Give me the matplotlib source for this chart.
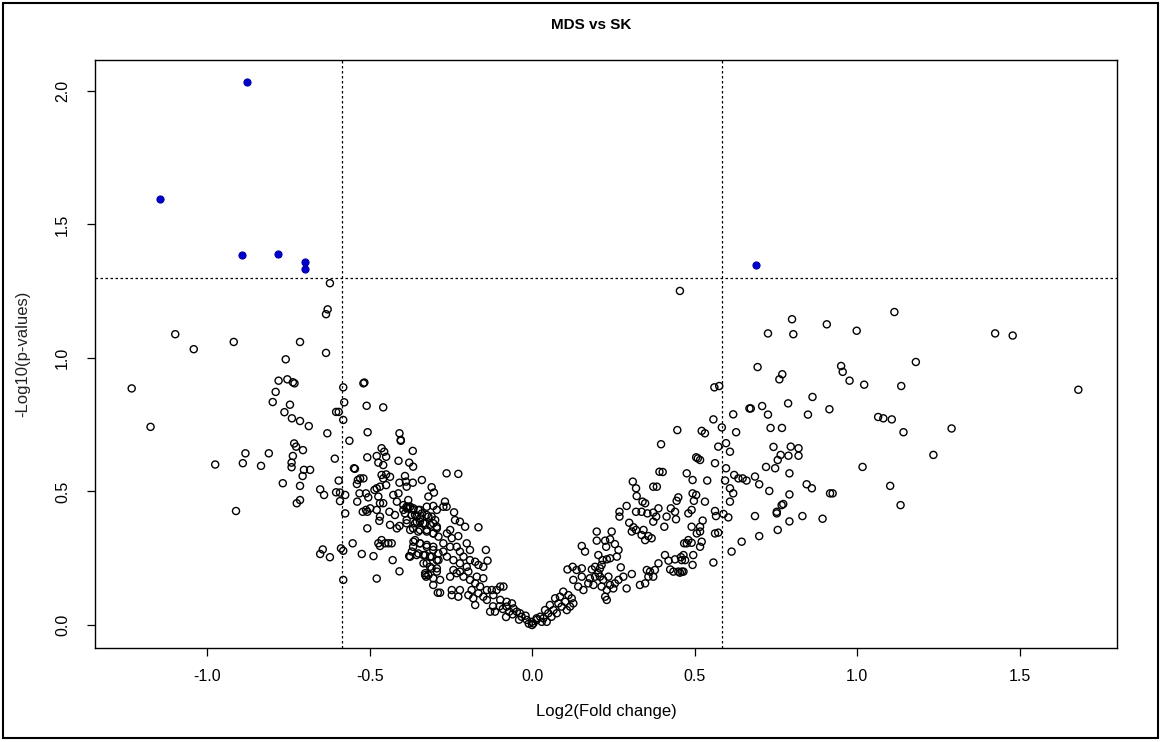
import matplotlib
matplotlib.use("Agg")
import matplotlib.pyplot as plt
from matplotlib.patches import Rectangle

plt.rcParams["font.family"] = ["Liberation Sans", "DejaVu Sans"]
plt.rcParams["axes.unicode_minus"] = False

# log2 fold change / -log10 p
left_fc = [-0.622, -0.629, -0.634, -1.098, -1.041, -0.918, -0.714, -0.634, -0.758, -1.232,
           -0.780, -0.753, -0.736, -0.731, -0.789, -0.798, -0.745, -0.762, -0.739, -0.714,
           -0.687, -0.603, -0.595, -0.630, -1.174, -0.732, -0.726, -0.705, -0.882, -0.810,
           -0.736, -0.607, -0.975, -0.890, -0.834, -0.740, -0.740, -0.702, -0.683, -0.706,
           -0.767, -0.714, -0.652, -0.595, -0.911,
           -0.581, -0.516, -0.519, -0.578, -0.509, -0.458, -0.581, -0.506, -0.408, -0.404,
           -0.263, -0.227]
left_p = [1.280, 1.182, 1.164, 1.089, 1.033, 1.060, 1.060, 1.019, 0.995, 0.886,
          0.915, 0.920, 0.909, 0.905, 0.873, 0.835, 0.825, 0.797, 0.774, 0.764,
          0.745, 0.798, 0.798, 0.718, 0.742, 0.680, 0.668, 0.655, 0.643, 0.643,
          0.633, 0.623, 0.601, 0.606, 0.596, 0.608, 0.591, 0.581, 0.581, 0.558,
          0.531, 0.521, 0.508, 0.541, 0.427,
          0.890, 0.908, 0.905, 0.834, 0.821, 0.815, 0.768, 0.722, 0.718, 0.693,
          0.568, 0.566]

mid_left_fc = [-0.562, -0.404, -0.463, -0.507, -0.478, -0.449, -0.455, -0.473, -0.458, -0.367,
               -0.411, -0.378, -0.366, -0.548, -0.545, -0.536, -0.529, -0.519, -0.539, -0.463,
               -0.449, -0.437, -0.458, -0.391, -0.408, -0.388, -0.367, -0.339, -0.386, -0.478,
               -0.485, -0.468, -0.449, -0.531, -0.511, -0.504, -0.538, -0.473, -0.468, -0.458,
               -0.427, -0.411, -0.416, -0.309, -0.302, -0.319, -0.381, -0.375, -0.386, -0.396,
               -0.521, -0.511, -0.498, -0.507, -0.478, -0.468, -0.470, -0.439, -0.422, -0.575,
               -0.507, -0.437, -0.416, -0.408, -0.386, -0.366, -0.345, -0.324, -0.304, -0.293,
               -0.360, -0.345, -0.319, -0.298, -0.355, -0.334, -0.314, -0.293, -0.386, -0.366,
               -0.345, -0.324, -0.304, -0.288, -0.360, -0.345, -0.324, -0.304, -0.288, -0.366,
               -0.355, -0.334, -0.314, -0.293, -0.324, -0.309, -0.293, -0.329, -0.326,
               -0.473, -0.463, -0.452, -0.442, -0.432, -0.468, -0.552, -0.644, -0.652, -0.622,
               -0.588, -0.581, -0.524, -0.488, -0.429, -0.378, -0.408, -0.581, -0.478, -0.304,
               -0.290, -0.603, -0.591, -0.575, -0.591, -0.640, -0.724, -0.714]
mid_left_p = [0.690, 0.690, 0.662, 0.628, 0.633, 0.630, 0.649, 0.608, 0.599, 0.652,
              0.615, 0.608, 0.593, 0.587, 0.585, 0.543, 0.549, 0.549, 0.528, 0.562,
              0.564, 0.555, 0.549, 0.558, 0.533, 0.537, 0.533, 0.543, 0.518, 0.512,
              0.506, 0.518, 0.524, 0.493, 0.493, 0.478, 0.462, 0.481, 0.456, 0.456,
              0.487, 0.493, 0.462, 0.516, 0.496, 0.481, 0.468, 0.443, 0.437, 0.431,
              0.424, 0.431, 0.437, 0.424, 0.431, 0.406, 0.390, 0.424, 0.412, 0.418,
              0.362, 0.375, 0.362, 0.371, 0.443, 0.431, 0.431, 0.443, 0.446, 0.431,
              0.412, 0.400, 0.406, 0.393, 0.387, 0.381, 0.375, 0.362, 0.393, 0.362,
              0.356, 0.350, 0.343, 0.331, 0.318, 0.306, 0.293, 0.281, 0.268, 0.293,
              0.262, 0.262, 0.256, 0.243, 0.231, 0.212, 0.200, 0.194, 0.181,
              0.306, 0.318, 0.306, 0.306, 0.306, 0.296, 0.306, 0.283, 0.266, 0.254,
              0.287, 0.278, 0.266, 0.258, 0.243, 0.258, 0.201, 0.169, 0.174, 0.150,
              0.121, 0.497, 0.496, 0.487, 0.464, 0.487, 0.456, 0.468]

# the over-plotted band between -0.4 and -0.28
dense_fc = [-0.396, -0.381, -0.365, -0.350, -0.391, -0.370, -0.355, -0.339, -0.324, -0.309,
            -0.386, -0.360, -0.345, -0.329, -0.304, -0.293, -0.375, -0.350, -0.324, -0.304,
            -0.365, -0.345, -0.324, -0.304, -0.370, -0.350, -0.329, -0.309, -0.288, -0.375,
            -0.334, -0.314, -0.293, -0.319, -0.304, -0.283, -0.329]
dense_p = [0.449, 0.443, 0.437, 0.431, 0.418, 0.412, 0.406, 0.418, 0.412, 0.406,
           0.381, 0.381, 0.387, 0.381, 0.381, 0.368, 0.356, 0.350, 0.356, 0.343,
           0.312, 0.306, 0.300, 0.293, 0.275, 0.268, 0.262, 0.256, 0.243, 0.256,
           0.231, 0.218, 0.212, 0.187, 0.175, 0.169, 0.187]

center_left_fc = [-0.268, -0.273, -0.263, -0.240, -0.237, -0.222, -0.206, -0.165, -0.227, -0.201,
                  -0.191, -0.142, -0.137, -0.252, -0.262, -0.247, -0.273, -0.252, -0.232, -0.222,
                  -0.211, -0.191, -0.175, -0.165, -0.150, -0.201, -0.222, -0.242, -0.262, -0.273,
                  -0.232, -0.211, -0.191, -0.175, -0.160, -0.170, -0.150, -0.196, -0.222, -0.242,
                  -0.252, -0.186, -0.165, -0.150, -0.139, -0.124, -0.109, -0.098, -0.088, -0.119,
                  -0.098, -0.078, -0.062, -0.078, -0.057, -0.047, -0.037, -0.032, -0.016, -0.001,
                  0.014, -0.129, -0.114, -0.139, -0.175, -0.181, -0.196, -0.227, -0.222, -0.247,
                  -0.247, -0.283, -0.060, -0.040, -0.020, -0.010, 0.000, -0.090, -0.070, -0.100,
                  -0.080, -0.120]
center_left_p = [0.462, 0.443, 0.443, 0.422, 0.393, 0.387, 0.368, 0.366, 0.333, 0.306,
                 0.281, 0.281, 0.241, 0.356, 0.343, 0.325, 0.306, 0.293, 0.293, 0.275,
                 0.256, 0.243, 0.237, 0.225, 0.218, 0.218, 0.231, 0.243, 0.256, 0.275,
                 0.194, 0.181, 0.169, 0.156, 0.144, 0.181, 0.175, 0.200, 0.200, 0.206,
                 0.181, 0.131, 0.119, 0.106, 0.131, 0.131, 0.131, 0.144, 0.144, 0.112,
                 0.094, 0.087, 0.081, 0.069, 0.062, 0.050, 0.044, 0.031, 0.019, 0.012,
                 0.025, 0.050, 0.050, 0.094, 0.075, 0.100, 0.112, 0.106, 0.131, 0.131,
                 0.112, 0.121, 0.040, 0.020, 0.035, 0.005, 0.000, 0.060, 0.050, 0.070,
                 0.030, 0.070]

center_right_fc = [0.392, 0.310, 0.320, 0.373, 0.384, 0.322, 0.340, 0.348, 0.291, 0.269,
                   0.269, 0.320, 0.337, 0.355, 0.373, 0.389, 0.382, 0.373, 0.299, 0.312,
                   0.320, 0.307, 0.343, 0.337, 0.358, 0.368, 0.348, 0.199, 0.199, 0.225,
                   0.240, 0.245, 0.228, 0.255, 0.266, 0.261, 0.240, 0.230, 0.204, 0.217,
                   0.214, 0.194, 0.209, 0.184, 0.204, 0.194, 0.178, 0.209, 0.219, 0.235,
                   0.240, 0.214, 0.230, 0.189, 0.173, 0.158, 0.142, 0.153, 0.127, 0.153,
                   0.163, 0.109, 0.125, 0.137, 0.153, 0.273, 0.307, 0.281, 0.266, 0.255,
                   0.250, 0.291, 0.332, 0.348, 0.358, 0.373, 0.363, 0.378, 0.353, 0.225,
                   0.230, 0.096, 0.112, 0.086, 0.071, 0.122, 0.102, 0.081, 0.055, 0.091,
                   0.066, 0.040, 0.050, 0.025, 0.035, 0.014, 0.004, 0.076, 0.107, 0.127,
                   0.117, 0.060, 0.030, 0.045]
center_right_p = [0.574, 0.537, 0.512, 0.518, 0.518, 0.483, 0.462, 0.456, 0.446, 0.424,
                  0.406, 0.424, 0.424, 0.418, 0.421, 0.437, 0.406, 0.387, 0.383, 0.366,
                  0.356, 0.350, 0.356, 0.337, 0.333, 0.325, 0.318, 0.350, 0.316, 0.316,
                  0.321, 0.350, 0.293, 0.303, 0.281, 0.256, 0.250, 0.246, 0.262, 0.243,
                  0.225, 0.218, 0.212, 0.208, 0.194, 0.181, 0.175, 0.181, 0.169, 0.181,
                  0.150, 0.144, 0.131, 0.150, 0.156, 0.131, 0.144, 0.181, 0.169, 0.296,
                  0.275, 0.208, 0.218, 0.206, 0.212, 0.216, 0.191, 0.181, 0.169, 0.156,
                  0.137, 0.137, 0.150, 0.156, 0.181, 0.181, 0.200, 0.206, 0.206, 0.106,
                  0.094, 0.125, 0.112, 0.106, 0.100, 0.100, 0.087, 0.081, 0.075, 0.069,
                  0.056, 0.056, 0.044, 0.031, 0.025, 0.019, 0.006, 0.044, 0.056, 0.081,
                  0.069, 0.031, 0.012, 0.012]

right_fc = [0.561, 0.576, 0.669, 0.619, 0.558, 0.447, 0.522, 0.532, 0.584, 0.628,
            0.397, 0.597, 0.573, 0.609, 0.505, 0.517, 0.510, 0.563, 0.597, 0.402,
            0.476, 0.622, 0.635, 0.648, 0.660, 0.494, 0.539, 0.594, 0.609, 0.619,
            0.494, 0.505, 0.450, 0.445, 0.498, 0.532, 0.609, 0.427, 0.440, 0.491,
            0.481, 0.563, 0.566, 0.589, 0.604, 0.525, 0.517, 0.491, 0.443, 0.414,
            0.407,
            0.686, 0.699, 0.645, 0.614, 0.558, 0.496, 0.494, 0.466, 0.458, 0.461,
            0.471, 0.440, 0.420, 0.389, 0.425, 0.435, 0.450, 0.455, 0.461, 0.466,
            0.409, 0.517, 0.491, 0.522, 0.468, 0.476, 0.481, 0.507, 0.517, 0.563,
            0.573, 0.455]
right_p = [0.890, 0.895, 0.811, 0.789, 0.770, 0.730, 0.727, 0.718, 0.740, 0.722,
           0.677, 0.681, 0.668, 0.649, 0.628, 0.618, 0.624, 0.606, 0.587, 0.573,
           0.568, 0.562, 0.549, 0.549, 0.541, 0.543, 0.541, 0.541, 0.512, 0.493,
           0.493, 0.487, 0.478, 0.465, 0.465, 0.462, 0.462, 0.437, 0.424, 0.431,
           0.418, 0.427, 0.408, 0.416, 0.403, 0.391, 0.368, 0.368, 0.396, 0.406,
           0.368,
           0.408, 0.333, 0.312, 0.275, 0.234, 0.262, 0.225, 0.262, 0.254, 0.243,
           0.243, 0.246, 0.241, 0.231, 0.208, 0.200, 0.200, 0.196, 0.200, 0.200,
           0.262, 0.293, 0.308, 0.312, 0.306, 0.306, 0.318, 0.343, 0.350, 0.343,
           0.346, 1.251]

far_right_fc = [1.115, 0.800, 0.907, 0.726, 0.804, 0.999, 1.181, 0.694, 0.951, 0.956,
                0.770, 0.761, 0.977, 1.022, 1.136, 0.863, 0.788, 0.673, 0.708, 0.726,
                0.849, 0.915, 1.065, 1.081, 1.107, 1.143, 0.734, 0.769, 0.743, 0.796,
                0.820, 0.765, 0.756, 0.789, 0.820, 0.720, 0.748, 0.792, 1.017, 0.686,
                0.699, 0.730, 0.792, 0.845, 0.861, 0.917, 0.925, 1.102,
                0.768, 0.773, 0.753, 0.753, 0.832, 0.894, 0.792, 0.756,
                1.425, 1.479, 1.681, 1.291, 1.235, 1.134]
far_right_p = [1.172, 1.145, 1.126, 1.092, 1.089, 1.102, 0.985, 0.966, 0.970, 0.948,
               0.939, 0.920, 0.915, 0.900, 0.895, 0.854, 0.830, 0.811, 0.820, 0.788,
               0.788, 0.808, 0.779, 0.774, 0.770, 0.722, 0.738, 0.738, 0.667, 0.668,
               0.662, 0.637, 0.618, 0.634, 0.634, 0.592, 0.587, 0.568, 0.592, 0.556,
               0.527, 0.502, 0.489, 0.527, 0.512, 0.493, 0.493, 0.521,
               0.449, 0.453, 0.424, 0.418, 0.408, 0.398, 0.388, 0.356,
               1.092, 1.084, 0.881, 0.736, 0.637, 0.449]

# significant genes (blue)
sig_fc = [-0.877, -1.145, -0.892, -0.782, -0.698, -0.700, 0.689]
sig_p = [2.034, 1.596, 1.386, 1.390, 1.360, 1.333, 1.348]

fc_cut = [-0.585, 0.585]
p_cut = 1.301


def main() -> None:
    fig = plt.figure(figsize=(11.61, 7.42), dpi=100)
    ax = fig.add_axes([0.0818, 0.1267, 0.8803, 0.7925])

    groups = [(left_fc, left_p), (mid_left_fc, mid_left_p), (dense_fc, dense_p),
              (center_left_fc, center_left_p), (center_right_fc, center_right_p),
              (right_fc, right_p), (far_right_fc, far_right_p)]
    for fc, p in groups:
        ax.scatter(fc, p, s=26, facecolors="none", edgecolors="black", linewidths=1.0, zorder=3)
    ax.scatter(sig_fc, sig_p, s=26, color="#0000CC", edgecolors="#0000AA", linewidths=0.8, zorder=4)

    for v in fc_cut:
        ax.axvline(v, color="black", lw=0.9, ls=(0, (2, 2)), zorder=2)
    ax.axhline(p_cut, color="black", lw=0.9, ls=(0, (2, 2)), zorder=2)

    ax.set_xlim(-1.345, 1.80)
    ax.set_ylim(-0.086, 2.116)
    ax.set_xticks([-1.0, -0.5, 0.0, 0.5, 1.0, 1.5])
    ax.set_yticks([0.0, 0.5, 1.0, 1.5, 2.0])
    ax.tick_params(length=6, width=0.9, labelsize=11.5)
    ax.tick_params(axis="x", pad=9)
    ax.tick_params(axis="y", pad=12)
    for lab in ax.get_yticklabels():
        lab.set_rotation(90)
        lab.set_va("center")
    for s in ax.spines.values():
        s.set_linewidth(1.0)

    fig.text(0.509, 0.966, "MDS vs SK", ha="center", va="center", fontsize=11, fontweight="bold")
    fig.text(0.522, 0.041, "Log2(Fold change)", ha="center", va="center", fontsize=12)
    fig.text(0.020, 0.523, "-Log10(p-values)", ha="center", va="center", rotation=90,
             fontsize=12, color="#222222")

    fig.patches.append(Rectangle((0.003, 0.005), 0.994, 0.991, transform=fig.transFigure,
                                 fill=False, lw=1.5, ec="black"))
    fig.savefig("out.png", dpi=100)


if __name__ == "__main__":
    main()
